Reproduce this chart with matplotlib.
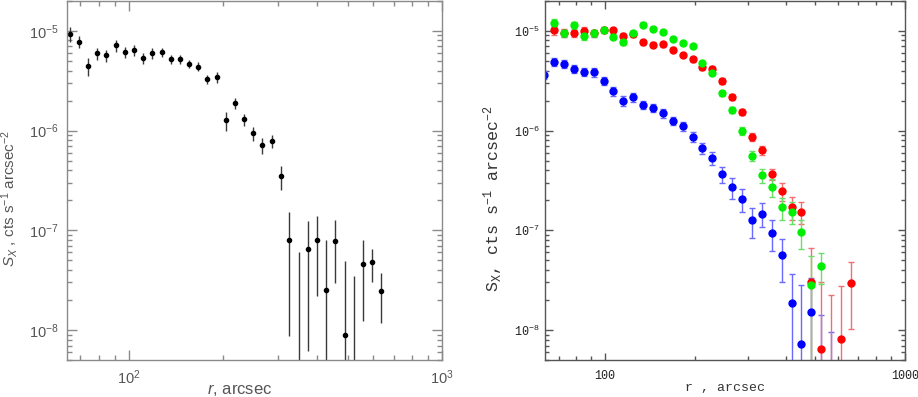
import matplotlib
matplotlib.use("Agg")
import matplotlib.pyplot as plt
import numpy as np
from matplotlib.ticker import FuncFormatter, LogLocator, NullFormatter

plt.rcParams["mathtext.fontset"] = "custom"
plt.rcParams["mathtext.it"] = "Liberation Sans:italic"
plt.rcParams["mathtext.rm"] = "Liberation Sans"

nan = np.nan

# left panel: single profile
r_left = [64.8, 69.2, 74.1, 79.2, 84.6, 90.7, 96.9, 103.5, 110.9, 118.7, 127.2,
          135.9, 145.5, 155.5, 166.5, 177.9, 190.6, 203.7, 218.2, 233.1, 249.6,
          266.7, 285.8, 305.3, 325.2, 348.5, 373.2, 398.7, 426.0, 456.1, 488.9,
          523.0, 559.3, 597.5, 640.0]
s_left = [9.37e-6, 7.79e-6, 4.43e-6, 5.94e-6, 5.67e-6, 7.15e-6, 6.12e-6, 6.41e-6,
          5.29e-6, 5.98e-6, 6.12e-6, 5.17e-6, 5.21e-6, 4.68e-6, 4.37e-6, 3.26e-6,
          3.43e-6, 1.27e-6, 1.88e-6, 1.30e-6, 9.39e-7, 7.12e-7, 7.88e-7, 3.47e-7,
          8.08e-8, 2e-9, 6.56e-8, 8.08e-8, 2.54e-8, 7.84e-8, 8.85e-9, 1e-9,
          4.64e-8, 4.79e-8, 2.47e-8]
err_left = [1.6e-6, 1.1e-6, 0.87e-6, 0.86e-6, 0.8e-6, 1.0e-6, 0.84e-6, 0.78e-6,
            0.69e-6, 0.72e-6, 0.65e-6, 0.52e-6, 0.52e-6, 0.47e-6, 0.45e-6, 0.36e-6,
            0.42e-6, 0.28e-6, 0.23e-6, 0.18e-6, 1.5e-7, 1.25e-7, 1.2e-7, 0.95e-7,
            7.2e-8, 5.8e-8, 5.95e-8, 5.9e-8, 5.4e-8, 4.9e-8, 4.05e-8, 3.4e-8,
            3.4e-8, 1.75e-8, 1.3e-8]

# right panel: three profiles on a common radial grid
r_right = [62.7, 67.6, 72.9, 78.7, 84.9, 91.6, 98.9, 106.7, 115.1, 124.2, 134.0,
           144.5, 156.0, 168.3, 181.6, 195.9, 211.3, 228.0, 246.0, 265.5, 286.4,
           309.0, 333.4, 359.7, 388.1, 418.8, 451.9, 487.5, 526.0, 567.5, 612.4,
           660.7]
blue_s = [3.63e-6, 4.86e-6, 4.65e-6, 4.14e-6, 3.86e-6, 3.83e-6, 3.16e-6, 2.47e-6,
          2.00e-6, 2.15e-6, 1.82e-6, 1.69e-6, 1.49e-6, 1.26e-6, 1.10e-6, 8.71e-7,
          6.65e-7, 5.33e-7, 3.66e-7, 2.69e-7, 2.06e-7, 1.26e-7, 1.47e-7, 9.48e-8,
          5.66e-8, 1.88e-8, 7.19e-9, 1.50e-8, 2e-9, 1e-9, nan, nan]
blue_err = [0.35e-6, 0.47e-6, 0.45e-6, 0.40e-6, 0.37e-6, 0.37e-6, 0.31e-6, 0.27e-6,
            0.24e-6, 0.23e-6, 0.17e-6, 0.14e-6, 0.14e-6, 0.12e-6, 0.11e-6, 9.5e-8,
            8.0e-8, 7.9e-8, 6.9e-8, 6.3e-8, 5.3e-8, 4.3e-8, 4.0e-8, 3.3e-8,
            2.6e-8, 1.8e-8, 2.1e-8, 1.8e-8, 1.2e-8, 8.6e-9, nan, nan]
red_s = [nan, 1.016e-5, 9.48e-6, 9.48e-6, 1.007e-5, 9.48e-6, 1.03e-5, 1.016e-5,
         8.91e-6, 9.27e-6, 7.64e-6, 7.24e-6, 7.30e-6, 6.46e-6, 5.75e-6, 5.21e-6,
         4.34e-6, 4.17e-6, 3.16e-6, 2.19e-6, 1.54e-6, 8.65e-7, 6.35e-7, 3.63e-7,
         2.47e-7, 1.71e-7, 1.54e-7, 3.02e-8, 6.46e-9, 2e-9, 8.18e-9, 2.93e-8]
red_err = [nan, 0.98e-6, 0.85e-6, 0.8e-6, 0.8e-6, 0.8e-6, 0.6e-6, 0.6e-6,
           0.6e-6, 0.6e-6, 0.45e-6, 0.4e-6, 0.4e-6, 0.35e-6, 0.3e-6, 0.3e-6,
           0.25e-6, 0.25e-6, 0.2e-6, 0.15e-6, 0.12e-6, 8e-8, 7e-8, 4.5e-8,
           5e-8, 4.4e-8, 3.8e-8, 3.7e-8, 2.4e-8, 2.04e-8, 1.93e-8, 1.9e-8]
green_s = [nan, 1.202e-5, 9.48e-6, 1.14e-5, 8.91e-6, 9.48e-6, 1.016e-5, 8.71e-6,
           7.71e-6, 9.48e-6, 1.156e-5, 1.047e-5, 9.70e-6, 8.26e-6, 7.53e-6, 6.97e-6,
           4.71e-6, 3.80e-6, 2.36e-6, 1.62e-6, 1.0e-6, 5.58e-7, 3.55e-7, 2.71e-7,
           1.70e-7, 1.54e-7, 9.55e-8, 2.80e-8, 4.40e-8, nan, nan, nan]
green_err = [nan, 1.1e-6, 0.8e-6, 0.9e-6, 0.8e-6, 0.8e-6, 0.6e-6, 0.5e-6,
             0.5e-6, 0.5e-6, 0.6e-6, 0.5e-6, 0.45e-6, 0.4e-6, 0.35e-6, 0.3e-6,
             0.25e-6, 0.2e-6, 0.15e-6, 0.12e-6, 9e-8, 6.5e-8, 6e-8, 5.5e-8,
             4.2e-8, 3.8e-8, 3.0e-8, 2.7e-8, 1.5e-8, nan, nan, nan]


def style_axes(ax, color, major_len, minor_len):
    ax.set_xscale("log")
    ax.set_yscale("log")
    ax.set_ylim(5e-9, 2e-5)
    for sp in ax.spines.values():
        sp.set_color(color)
        sp.set_linewidth(1.0)
    ax.yaxis.set_major_locator(LogLocator(base=10, numticks=10))
    ax.yaxis.set_minor_locator(LogLocator(base=10, subs=np.arange(2, 10), numticks=10))
    ax.xaxis.set_minor_formatter(NullFormatter())
    ax.yaxis.set_minor_formatter(NullFormatter())
    ax.tick_params(which="both", direction="in", top=True, right=True, color=color)
    ax.tick_params(which="major", length=major_len, width=1.0)
    ax.tick_params(which="minor", length=minor_len, width=1.0)


fig = plt.figure(figsize=(9.18, 3.97), dpi=100)

# ---- left panel
ax1 = fig.add_axes([0.073, 0.093, 0.4085, 0.905])
style_axes(ax1, "#8a8a8a", 7, 3.8)
ax1.set_xlim(63.4, 1000)
ax1.errorbar(r_left, s_left, yerr=err_left, fmt="o", color="black",
             ecolor="#3a3a3a", elinewidth=1.0, markersize=3, capsize=0)
ax1.tick_params(labelsize=10.5, labelcolor="#555555", pad=6)
for lab in ax1.get_xticklabels() + ax1.get_yticklabels():
    lab.set_family("Liberation Sans")
ax1.set_xlabel(r"$r$, arcsec", fontsize=12, color="#555555", family="Liberation Sans")
ax1.set_ylabel(r"$S_X$ , cts s$^{-1}$ arcsec$^{-2}$", fontsize=11,
               color="#555555", family="Liberation Sans")
ax1.xaxis.set_label_coords(0.46, -0.062)
ax1.yaxis.set_label_coords(-0.125, 0.45)

# ---- right panel
ax2 = fig.add_axes([0.5937, 0.093, 0.392, 0.905])
style_axes(ax2, "#555555", 5.4, 3.0)
ax2.set_xlim(63.1, 1000)
series = [
    (blue_s, blue_err, "#0000ff", "#6a6aff"),
    (red_s, red_err, "#ff0000", "#f07070"),
    (green_s, green_err, "#00ee00", "#66e066"),
]
for s, e, col, ecol in series:
    ax2.errorbar(r_right, s, yerr=e, fmt="o", color=col, ecolor=ecol,
                 elinewidth=1.0, capsize=2.2, capthick=1.0, markersize=5)
ax2.xaxis.set_major_formatter(FuncFormatter(lambda v, _: f"{v:g}"))
ax2.tick_params(axis="x", labelsize=8.5, labelcolor="#222222", pad=7)
ax2.tick_params(axis="y", labelsize=8.5, labelcolor="#222222", pad=4)
for lab in ax2.get_xticklabels() + ax2.get_yticklabels():
    lab.set_family("Liberation Mono")
ax2.set_xlabel("r , arcsec", fontsize=9.5, color="#333333", family="Liberation Mono")
ax2.set_ylabel(r"S$_\mathdefault{X}$, cts s$^\mathdefault{-1}$ arcsec$^\mathdefault{-2}$",
               fontsize=12, color="#333333", family="Liberation Mono")
ax2.xaxis.set_label_coords(0.5, -0.06)
ax2.yaxis.set_label_coords(-0.11, 0.45)

fig.savefig("out.png", dpi=100)
